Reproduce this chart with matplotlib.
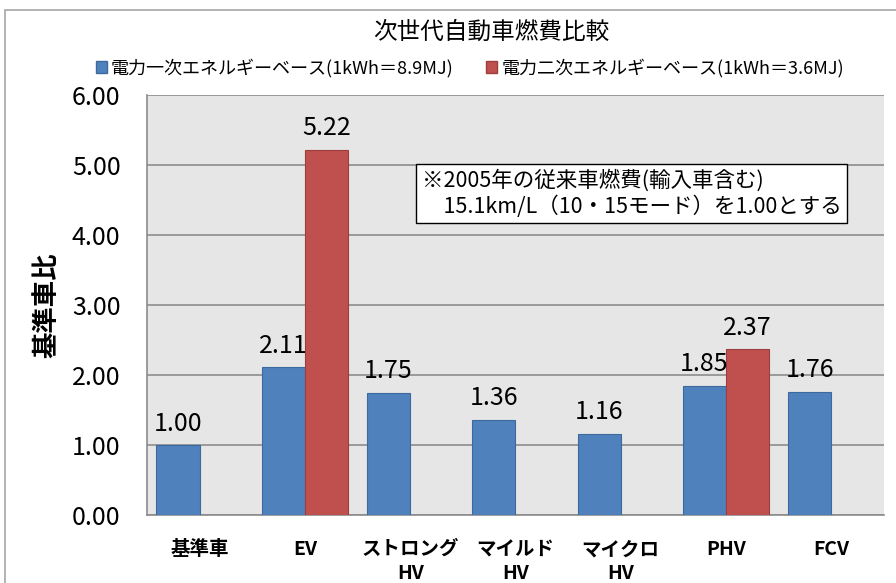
import numpy as np
import matplotlib
matplotlib.use("Agg")
from matplotlib import pyplot as plt
from matplotlib.patches import Rectangle, Patch

plt.rcParams['font.family'] = ['Noto Sans CJK JP', 'DejaVu Sans']

# data
categories = ['基準車', 'EV', 'ストロング\nHV', 'マイルド\nHV', 'マイクロ\nHV', 'PHV', 'FCV']
primary = [1.00, 2.11, 1.75, 1.36, 1.16, 1.85, 1.76]
secondary = [np.nan, 5.22, np.nan, np.nan, np.nan, 2.37, np.nan]
series_names = ['電力一次エネルギーベース(1kWh＝8.9MJ)', '電力二次エネルギーベース(1kWh＝3.6MJ)']
y_ticks = [0, 1, 2, 3, 4, 5, 6]

BLUE = '#4f81bd'
RED = '#c0504d'

fig = plt.figure(figsize=(8.96, 5.83), dpi=100)
ax = fig.add_axes([0.164, 0.1166, 0.8225, 0.7204])

# outer chart border
fig.patches.append(Rectangle((5 / 896, -0.1), 1.0, 1 - 10 / 583 + 0.1,
                             transform=fig.transFigure, fill=False,
                             edgecolor='#a6a6a6', linewidth=1.2))

x = np.arange(len(categories))
w = 0.41
b1 = ax.bar(x - w / 2, primary, w, color=BLUE, edgecolor='#3d6a9e', linewidth=0.8, zorder=3)
b2 = ax.bar(x + w / 2, secondary, w, color=RED, edgecolor='#9c3f3c', linewidth=0.8, zorder=3)

ax.bar_label(b1, labels=['%.2f' % v for v in primary], padding=6, fontsize=18)
ax.bar_label(b2, labels=['' if np.isnan(v) else '%.2f' % v for v in secondary],
             padding=6, fontsize=18)

ax.set_xlim(-0.5, len(categories) - 0.5)
ax.set_ylim(0, 6)
ax.set_yticks(y_ticks)
ax.set_yticklabels(['%.2f' % t for t in y_ticks], fontsize=18)
ax.set_xticks(x)
ax.set_xticklabels(categories, fontsize=14, fontweight='bold', linespacing=1.3)
ax.tick_params(axis='y', length=0, pad=19)
ax.tick_params(axis='x', length=0, pad=18)

ax.set_facecolor('#e6e6e6')
ax.grid(axis='y', color='#8c8c8c', linewidth=1.2, zorder=0)
ax.set_axisbelow(True)
for s in ['top', 'right']:
    ax.spines[s].set_visible(False)
for s in ['left', 'bottom']:
    ax.spines[s].set_color('#8c8c8c')
    ax.spines[s].set_linewidth(1.2)

ax.set_ylabel('基準車比', fontsize=19, fontweight='bold', labelpad=8)

fig.text(491 / 896, 1 - 32 / 583, '次世代自動車燃費比較', fontsize=17,
         ha='center', va='center')

handles = [Patch(facecolor=BLUE, edgecolor='#3d6a9e'),
           Patch(facecolor=RED, edgecolor='#9c3f3c')]
fig.legend(handles, series_names, loc='center', bbox_to_anchor=(470 / 896, 1 - 68 / 583),
           ncol=2, frameon=False, fontsize=13, handlelength=0.6, handleheight=0.7,
           handletextpad=0.25, columnspacing=1.8)

ax.text(0.373, 0.765, '※2005年の従来車燃費(輸入車含む)\n　15.1km/L（10・15モード）を1.00とする',
        transform=ax.transAxes, fontsize=15.5, ha='left', va='center', linespacing=1.2,
        bbox=dict(boxstyle='square,pad=0.25', facecolor='white', edgecolor='black', linewidth=1),
        zorder=5)

fig.savefig('out.png', dpi=100)
